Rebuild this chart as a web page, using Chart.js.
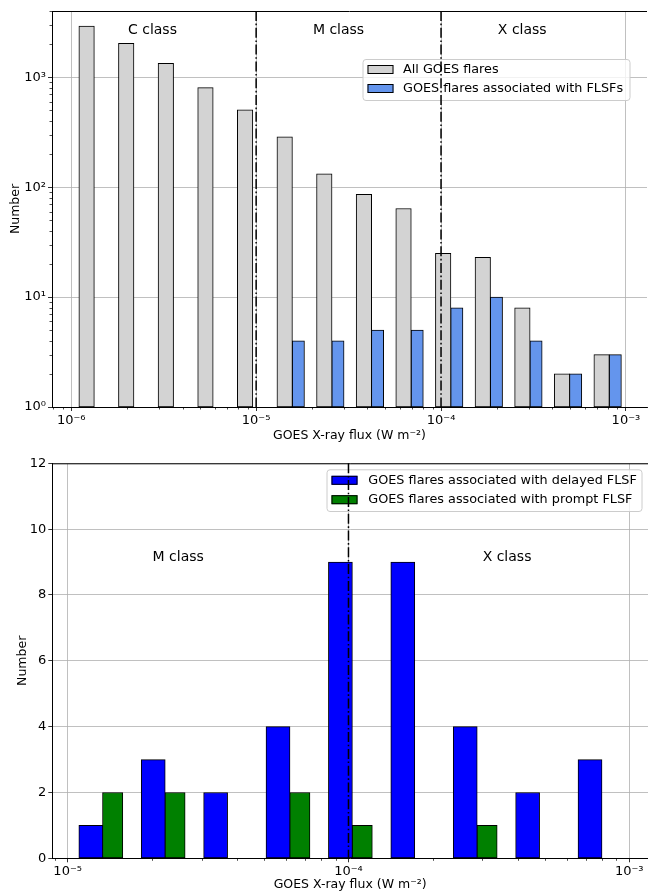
<!DOCTYPE html>
<html>
<head>
<meta charset="utf-8">
<title>GOES flares and FLSFs</title>
<script src="https://cdn.jsdelivr.net/npm/chart.js@4.4.0/dist/chart.umd.min.js"></script>
<style>
  body { margin: 0; background: #fff; }
  .panel { position: absolute; left: 0; width: 648px; height: 447px; }
</style>
</head>
<body>
<div class="panel" style="top:0"><canvas id="topChart" width="648" height="447"></canvas></div>
<div class="panel" style="top:447px"><canvas id="bottomChart" width="648" height="447"></canvas></div>
<script>
// ---- top panel: all GOES flares vs flares with FLSFs (bar centres in W m^-2)
const allFlaresX = [1.211e-6, 1.983e-6, 3.248e-6, 5.320e-6, 8.713e-6, 1.427e-5, 2.337e-5,
                    3.828e-5, 6.269e-5, 1.027e-4, 1.682e-4, 2.754e-4, 4.511e-4, 7.388e-4];
const allFlares = [2930, 2040, 1340, 805, 505, 287, 132, 86, 64, 25, 23, 8, 2, 3];
const flsfX = [1.691e-5, 2.769e-5, 4.536e-5, 7.429e-5, 1.217e-4, 1.993e-4, 3.264e-4, 5.346e-4, 8.755e-4];
const flsf = [4, 4, 5, 5, 8, 10, 4, 2, 3];
const topXTicks = [1e-6, 1e-5, 1e-4, 1e-3];
const topYTicks = [1, 10, 100, 1000];
const topClassLines = [1e-5, 1e-4];

// ---- bottom panel: delayed vs prompt FLSF
const delayedX = [1.209e-5, 2.017e-5, 3.364e-5, 5.611e-5, 9.360e-5, 1.561e-4, 2.605e-4, 4.345e-4, 7.248e-4];
const delayed = [1, 3, 2, 4, 9, 9, 4, 2, 3];
const promptX = [1.446e-5, 2.411e-5, 4.022e-5, 6.710e-5, 1.119e-4, 1.867e-4, 3.115e-4, 5.196e-4, 8.667e-4];
const prompt = [2, 2, 0, 2, 1, 0, 1, 0, 0];
const bottomXTicks = [1e-5, 1e-4, 1e-3];
const bottomClassLines = [1e-4];

Chart.defaults.font.family = "'DejaVu Sans', sans-serif";
Chart.defaults.color = '#000';

const SUP = {'-': '\u207b', '0': '\u2070', '1': '\u00b9', '2': '\u00b2', '3': '\u00b3',
             '4': '\u2074', '5': '\u2075', '6': '\u2076', '7': '\u2077', '8': '\u2078', '9': '\u2079'};
function pow10Label(v) {
  const e = Math.round(Math.log10(v));
  return '10' + String(e).split('').map(c => SUP[c]).join('');
}

function minorValues(min, max) {
  const out = [];
  for (let e = Math.floor(Math.log10(min)); e <= Math.ceil(Math.log10(max)); e++) {
    for (let m = 2; m <= 9; m++) {
      const v = m * Math.pow(10, e);
      if (v >= min && v <= max) out.push(v);
    }
  }
  return out;
}

function points(xs, ys) {
  return xs.map((x, i) => ({x: x, y: ys[i]}));
}

// spine, minor ticks, class labels, legend, class boundaries
const decor = {
  id: 'decor',
  afterDraw(chart, args, opts) {
    const ctx = chart.ctx;
    const area = chart.chartArea;
    const sx = chart.scales.x, sy = chart.scales.y;
    ctx.save();

    ctx.strokeStyle = '#000';
    ctx.lineWidth = 1;
    ctx.beginPath();
    ctx.moveTo(area.left, area.top + 0.5);
    ctx.lineTo(area.right, area.top + 0.5);
    ctx.stroke();

    ctx.lineWidth = 0.7;
    ctx.beginPath();
    if (sx.type === 'logarithmic') {
      minorValues(sx.min, sx.max).forEach(v => {
        const px = Math.round(sx.getPixelForValue(v)) + 0.5;
        ctx.moveTo(px, area.bottom);
        ctx.lineTo(px, area.bottom + 2.5);
      });
    }
    if (sy.type === 'logarithmic') {
      minorValues(sy.min, sy.max).forEach(v => {
        const py = Math.round(sy.getPixelForValue(v)) + 0.5;
        ctx.moveTo(area.left, py);
        ctx.lineTo(area.left - 2.5, py);
      });
    }
    ctx.stroke();

    ctx.fillStyle = '#000';
    ctx.font = "14px 'DejaVu Sans'";
    ctx.textAlign = 'center';
    ctx.textBaseline = 'middle';
    opts.labels.forEach(l => {
      ctx.fillText(l.text, sx.getPixelForValue(l.x), sy.getPixelForValue(l.y));
    });

    const lg = opts.legend;
    ctx.fillStyle = 'rgba(255,255,255,0.8)';
    ctx.strokeStyle = '#cccccc';
    ctx.lineWidth = 1;
    ctx.beginPath();
    ctx.roundRect(lg.x + 0.5, lg.y + 0.5, lg.w, lg.h, 3);
    ctx.fill();
    ctx.stroke();
    ctx.font = "12.8px 'DejaVu Sans'";
    ctx.textAlign = 'left';
    lg.items.forEach((it, i) => {
      const cy = lg.y + lg.first + i * lg.step;
      ctx.fillStyle = it.color;
      ctx.fillRect(lg.x + 5, cy - 4.5, 26, 9);
      ctx.strokeStyle = '#000';
      ctx.lineWidth = 1;
      ctx.strokeRect(lg.x + 5.5, cy - 4, 25, 8);
      ctx.fillStyle = '#000';
      ctx.fillText(it.label, lg.textX, cy);
    });

    ctx.strokeStyle = '#000';
    ctx.lineWidth = 1.5;
    ctx.setLineDash([10, 2.6, 1.6, 2.6]);
    opts.lines.forEach(v => {
      const px = sx.getPixelForValue(v);
      ctx.beginPath();
      ctx.moveTo(px, area.top);
      ctx.lineTo(px, area.bottom);
      ctx.stroke();
    });
    ctx.restore();
  }
};

const gridStyle = {color: '#b0b0b0', lineWidth: 0.8, tickColor: '#000', tickLength: 4, offset: false};
const tickFont = {size: 13};
const titleFont = {size: 12.5};

new Chart(document.getElementById('topChart'), {
  type: 'bar',
  data: {
    datasets: [
      {label: 'All GOES flares', data: points(allFlaresX, allFlares), backgroundColor: '#d3d3d3',
       borderColor: '#000', borderWidth: 1, borderSkipped: false, barThickness: 15.5},
      {label: 'GOES flares associated with FLSFs', data: points(flsfX, flsf), backgroundColor: '#6495ed',
       borderColor: '#000', borderWidth: 1, borderSkipped: false, barThickness: 12.3}
    ]
  },
  options: {
    responsive: false,
    animation: false,
    grouped: false,
    layout: {padding: {top: 11, right: 1, left: 0, bottom: 0}},
    scales: {
      x: {
        type: 'logarithmic', min: 7.87e-7, max: 1.3e-3, offset: false,
        afterBuildTicks: s => { s.ticks = topXTicks.map(v => ({value: v})); },
        afterFit: s => { s.height = 40; },
        ticks: {callback: v => pow10Label(v), autoSkip: false, maxRotation: 0, padding: 2, font: tickFont},
        grid: gridStyle,
        border: {color: '#000', width: 1},
        title: {display: true, text: 'GOES X-ray flux (W m\u207b\u00b2)', font: titleFont, padding: {top: 0, bottom: 4}}
      },
      y: {
        type: 'logarithmic', min: 1, max: 4010,
        afterBuildTicks: s => { s.ticks = topYTicks.map(v => ({value: v})); },
        afterFit: s => { s.width = 52; },
        ticks: {callback: v => pow10Label(v), autoSkip: false, padding: 2, font: tickFont},
        grid: gridStyle,
        border: {color: '#000', width: 1},
        title: {display: true, text: 'Number', font: titleFont, padding: {top: 8, bottom: 0}}
      }
    },
    plugins: {
      legend: {display: false},
      tooltip: {enabled: false},
      decor: {
        lines: topClassLines,
        labels: [
          {text: 'C class', x: 2.75e-6, y: 2700},
          {text: 'M class', x: 2.79e-5, y: 2700},
          {text: 'X class', x: 2.75e-4, y: 2700}
        ],
        legend: {
          x: 362.5, y: 59, w: 267, h: 41, first: 10.5, step: 19, textX: 403,
          items: [
            {color: '#d3d3d3', label: 'All GOES flares'},
            {color: '#6495ed', label: 'GOES flares associated with FLSFs'}
          ]
        }
      }
    }
  },
  plugins: [decor]
});

new Chart(document.getElementById('bottomChart'), {
  type: 'bar',
  data: {
    datasets: [
      {label: 'GOES flares associated with delayed FLSF', data: points(delayedX, delayed), backgroundColor: '#0000ff',
       borderColor: '#000', borderWidth: 1, borderSkipped: false, barThickness: 24},
      {label: 'GOES flares associated with prompt FLSF', data: points(promptX, prompt), backgroundColor: '#008000',
       borderColor: '#000', borderWidth: 1, borderSkipped: false, barThickness: 20.3}
    ]
  },
  options: {
    responsive: false,
    animation: false,
    grouped: false,
    layout: {padding: {top: 16.3, right: 0, left: 0, bottom: 0}},
    scales: {
      x: {
        type: 'logarithmic', min: 8.815e-6, max: 1.166e-3, offset: false,
        afterBuildTicks: s => { s.ticks = bottomXTicks.map(v => ({value: v})); },
        afterFit: s => { s.height = 35.7; },
        ticks: {callback: v => pow10Label(v), autoSkip: false, maxRotation: 0, padding: 2, font: tickFont},
        grid: gridStyle,
        border: {color: '#000', width: 1},
        title: {display: true, text: 'GOES X-ray flux (W m\u207b\u00b2)', font: titleFont, padding: {top: 0, bottom: 2}}
      },
      y: {
        type: 'linear', min: 0, max: 12,
        afterFit: s => { s.width = 52.3; },
        ticks: {stepSize: 2, autoSkip: false, padding: 2, font: tickFont},
        grid: gridStyle,
        border: {color: '#000', width: 1},
        title: {display: true, text: 'Number', font: titleFont, padding: {top: 15, bottom: 0}}
      }
    },
    plugins: {
      legend: {display: false},
      tooltip: {enabled: false},
      decor: {
        lines: bottomClassLines,
        labels: [
          {text: 'M class', x: 2.475e-5, y: 9.15},
          {text: 'X class', x: 3.67e-4, y: 9.15}
        ],
        legend: {
          x: 326.5, y: 22.3, w: 315, h: 41.7, first: 11, step: 19.4, textX: 368.3,
          items: [
            {color: '#0000ff', label: 'GOES flares associated with delayed FLSF'},
            {color: '#008000', label: 'GOES flares associated with prompt FLSF'}
          ]
        }
      }
    }
  },
  plugins: [decor]
});
</script>
</body>
</html>
